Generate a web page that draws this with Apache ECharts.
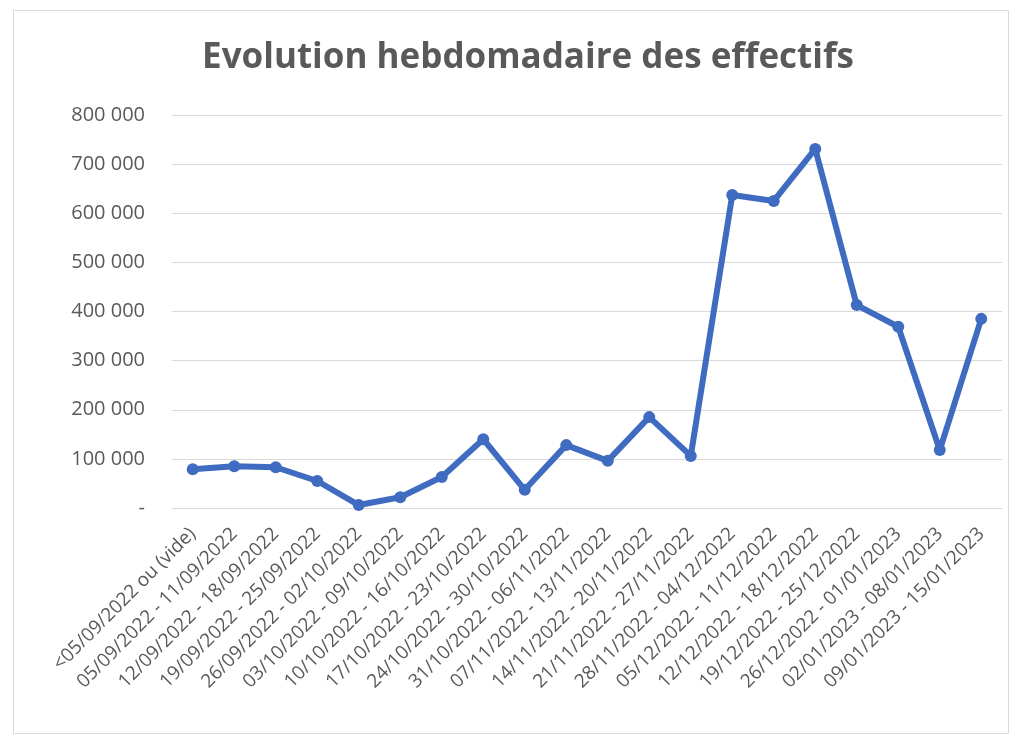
<!DOCTYPE html>
<html>
<head>
<meta charset="utf-8">
<title>Evolution hebdomadaire des effectifs</title>
<script src="https://cdn.jsdelivr.net/npm/echarts@6/dist/echarts.min.js"></script>
<style>
    html, body { margin: 0; padding: 0; background: #fff; }
    #frame {
        position: absolute; left: 13px; top: 10px; width: 996px; height: 724px;
        border: 1px solid #d9d9d9; box-sizing: border-box;
    }
    #chart { position: absolute; left: 0; top: 0; width: 1024px; height: 739px; }
</style>
</head>
<body>
<div id="frame"></div>
<div id="chart"></div>
<script>
// semaines
const weeks = [
    '<05/09/2022 ou (vide)',
    '05/09/2022 - 11/09/2022',
    '12/09/2022 - 18/09/2022',
    '19/09/2022 - 25/09/2022',
    '26/09/2022 - 02/10/2022',
    '03/10/2022 - 09/10/2022',
    '10/10/2022 - 16/10/2022',
    '17/10/2022 - 23/10/2022',
    '24/10/2022 - 30/10/2022',
    '31/10/2022 - 06/11/2022',
    '07/11/2022 - 13/11/2022',
    '14/11/2022 - 20/11/2022',
    '21/11/2022 - 27/11/2022',
    '28/11/2022 - 04/12/2022',
    '05/12/2022 - 11/12/2022',
    '12/12/2022 - 18/12/2022',
    '19/12/2022 - 25/12/2022',
    '26/12/2022 - 01/01/2023',
    '02/01/2023 - 08/01/2023',
    '09/01/2023 - 15/01/2023'
];

// effectifs par semaine
const effectifs = [
    79000, 85000, 83000, 55000, 6000, 22000, 63000, 140000, 37000, 128000,
    96000, 185000, 106000, 637000, 625000, 731000, 413000, 369000, 118000, 385000
];

// graduations axe Y
const yMin = 0;
const yMax = 800000;
const yStep = 100000;

const textColor = '#595959';

// format "800 000", zéro affiché "-"
function fmt (v) {
    if (v === 0) return '-';
    return String(v).replace(/\B(?=(\d{3})+(?!\d))/g, ' ');
}

const myChart = echarts.init(document.getElementById('chart'));

const option = {
    animation: false,
    textStyle: { fontFamily: '"Open Sans", "DejaVu Sans", sans-serif' },
    title: {
        text: 'Evolution hebdomadaire des effectifs',
        left: 523,
        textAlign: 'center',
        top: 36,
        textStyle: {
            fontSize: 35,
            fontWeight: 'bold',
            color: textColor,
            fontFamily: '"Open Sans", sans-serif'
        }
    },
    grid: {
        left: 172,
        right: 22,
        top: 115,
        bottom: 231,
        containLabel: false
    },
    xAxis: {
        type: 'category',
        data: weeks,
        boundaryGap: true,
        axisLine: { lineStyle: { color: '#d9d9d9' } },
        axisTick: { show: false },
        axisLabel: {
            interval: 0,
            rotate: 45,
            margin: 23,
            fontSize: 19,
            color: textColor
        }
    },
    yAxis: {
        type: 'value',
        min: yMin,
        max: yMax,
        interval: yStep,
        axisLine: { show: false },
        axisTick: { show: false },
        axisLabel: {
            margin: 27,
            fontSize: 20,
            color: textColor,
            formatter: fmt
        },
        splitLine: { lineStyle: { color: '#d9d9d9', width: 1 } }
    },
    series: [{
        type: 'line',
        data: effectifs,
        symbol: 'circle',
        symbolSize: 12,
        lineStyle: { color: '#3f6cc0', width: 6 },
        itemStyle: { color: '#3f6cc0' }
    }]
};

myChart.setOption(option);
</script>
</body>
</html>
